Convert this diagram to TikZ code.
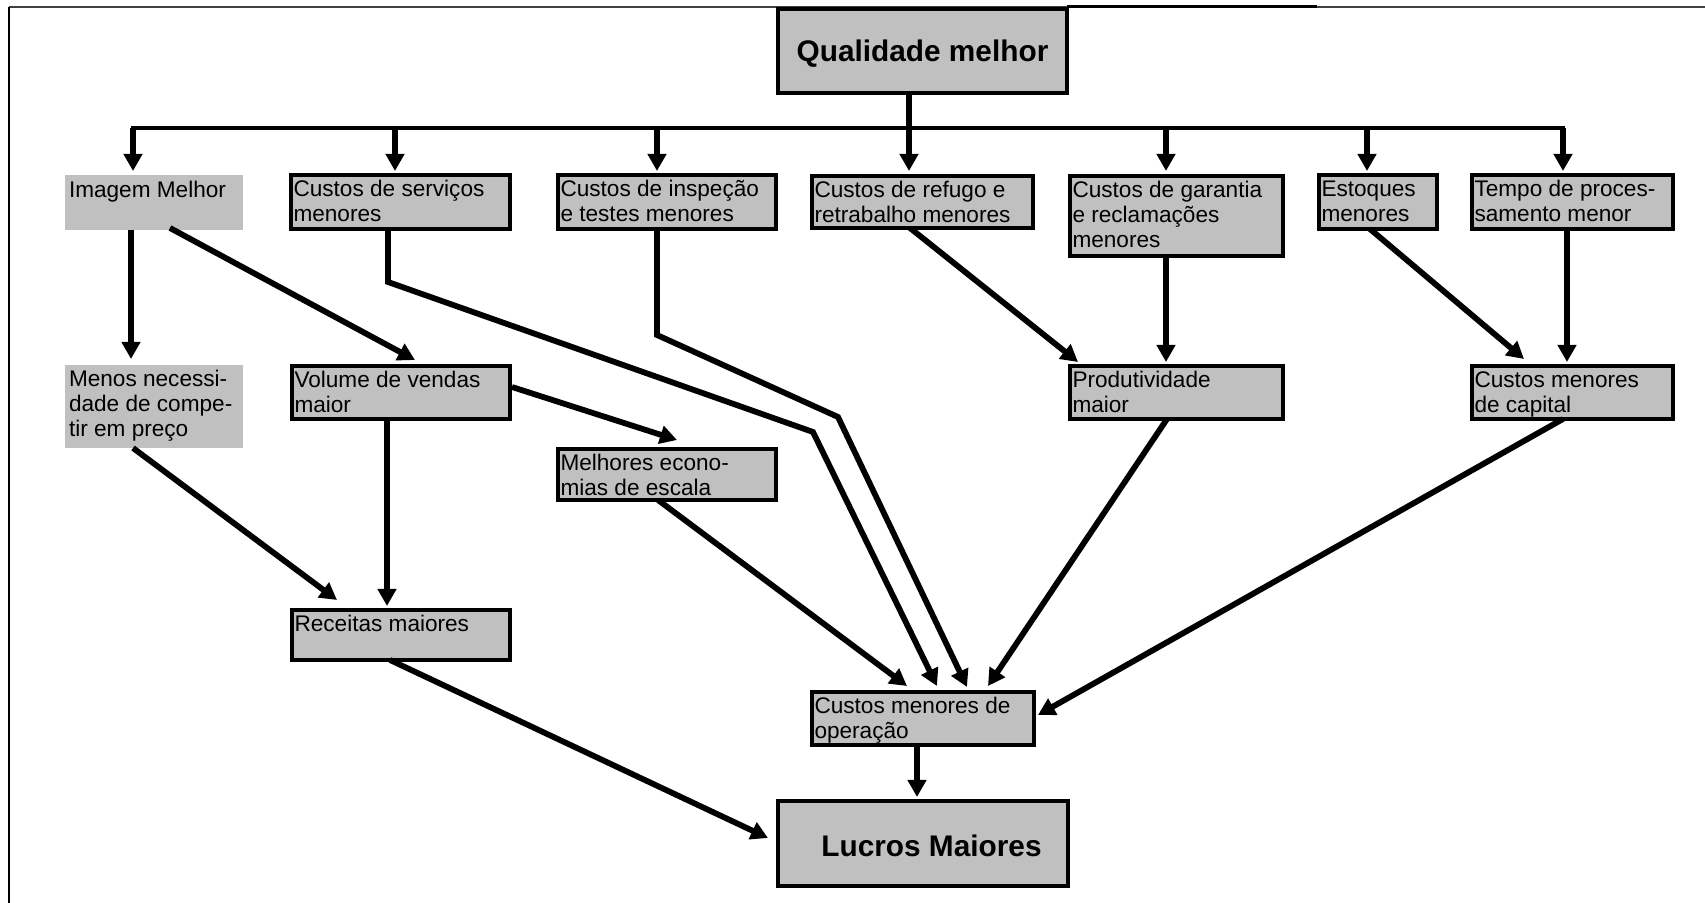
\documentclass[tikz,border=0pt]{standalone}
\usepackage{fontspec}
\setmainfont{Liberation Sans}
\usetikzlibrary{arrows.meta}
\definecolor{boxgray}{HTML}{C0C0C0}
\newcommand{\txtfont}{\fontsize{11.3pt}{12.5pt}\selectfont}
\newcommand{\ttlfont}{\fontsize{14.9pt}{17pt}\selectfont\bfseries}
% #1 style, #2 name, #3 x1, #4 y1, #5 x2, #6 y2 (px), #7 padx, #8 pady (px), #9 text
\newcommand{\bnode}[9]{%
  \pgfmathsetmacro{\bbw}{0.5*(#5-#3-2*#7)}%
  \pgfmathsetmacro{\bbh}{0.5*(#6-#4-2*#8)}%
  \pgfmathsetmacro{\bpx}{0.5*#7}%
  \pgfmathsetmacro{\bpy}{0.5*#8}%
  \node[#1, inner xsep=\bpx pt, inner ysep=\bpy pt] (#2) at ({(#3+#5)/2},{(#4+#6)/2})
    {\parbox[c][\bbh pt][t]{\bbw pt}{\raggedright\strut #9}};%
}
\begin{document}
\begin{tikzpicture}[x=0.5pt,y=-0.5pt,
  gbox/.style={draw=black, fill=boxgray, line width=2.4pt, outer sep=0pt, font=\txtfont},
  nbox/.style={fill=boxgray, outer sep=0pt, font=\txtfont},
  tbox/.style={draw=black, fill=boxgray, line width=2.4pt, outer sep=0pt, inner sep=0pt, font=\ttlfont},
  arr/.style={line width=2.9pt, -{Triangle[width=9pt,length=8.5pt]}},
  busline/.style={line width=2.3pt, line cap=rect},
  framel/.style={line width=1.25pt}
]
\useasboundingbox (0,0) rectangle (1705,903);

% frame
\draw[line width=0.8pt, black!75] (9,7) -- (1705,7);
\draw[line width=1.5pt] (1067,7) -- (1317,7);
\draw[framel] (9,7) -- (9,903);

% title boxes
\node[tbox, minimum width=144.5pt, minimum height=42pt] (qual) at (922.5,51) {\raisebox{-1.5pt}[\height][\depth]{Qualidade melhor}};
\node[tbox, minimum width=145pt, minimum height=42.5pt] (lucros) at (923,843.5) {\hspace*{8.5pt}\raisebox{-1pt}[\height][\depth]{Lucros Maiores}};

% row 1
\bnode{nbox}{imagem}{65}{175}{243}{230}{4}{5.5}{Imagem Melhor}
\bnode{gbox}{servicos}{291}{175}{510}{229}{2.5}{4.5}{Custos de serviços\\menores}
\bnode{gbox}{inspecao}{558}{175}{776}{229}{2.5}{4.5}{Custos de inspeção\\e testes menores}
\bnode{gbox}{refugo}{812}{176}{1033}{228}{2.5}{4.5}{Custos de refugo e\\retrabalho menores}
\bnode{gbox}{garantia}{1070}{176}{1283}{256}{2.5}{4.5}{Custos de garantia\\e reclamações\\menores}
\bnode{gbox}{estoques}{1319}{175}{1437}{229}{2.5}{4.5}{Estoques\\menores}
\bnode{gbox}{tempo}{1472}{175}{1673}{229}{2.5}{4.5}{Tempo de proces-\\samento menor}

% row 2
\bnode{nbox}{menos}{65}{365}{243}{448}{4}{4.5}{Menos necessi-\\dade de compe-\\tir em preço}
\bnode{gbox}{volume}{292}{366}{510}{419}{2.5}{4.5}{Volume de vendas\\maior}
\bnode{gbox}{produt}{1070}{366}{1283}{419}{2.5}{4.5}{Produtividade\\maior}
\bnode{gbox}{capital}{1472}{366}{1673}{419}{2.5}{4.5}{Custos menores\\de capital}
\bnode{gbox}{melhores}{558}{449}{776}{500}{2.5}{4.5}{Melhores econo-\\mias de escala}
\bnode{gbox}{receitas}{292}{610}{510}{660}{2.5}{4.5}{Receitas maiores}
\bnode{gbox}{operacao}{812}{692}{1034}{745}{2.5}{4.5}{Custos menores de\\operação}

% bus
\coordinate (busL) at (133,128);
\coordinate (busR) at (1563,128);
\draw[busline] (busL) -- (busR);
\coordinate (tImg) at ([shift={(-21,-4)}]imagem.north);
\coordinate (tSer) at ([shift={(-5.5,-4)}]servicos.north);
\coordinate (tIns) at ([shift={(-10,-4)}]inspecao.north);
\coordinate (tGar) at ([shift={(-10.5,-5)}]garantia.north);
\coordinate (tEst) at ([shift={(-11,-4)}]estoques.north);
\coordinate (tTem) at ([shift={(-9.5,-4)}]tempo.north);
\draw[arr] (tImg |- busL) -- (tImg);
\draw[arr] (tSer |- busL) -- (tSer);
\draw[arr] (tIns |- busL) -- (tIns);
\draw[arr] (tGar |- busL) -- (tGar);
\draw[arr] (tEst |- busL) -- (tEst);
\draw[arr] (tTem |- busL) -- (tTem);
\draw[arr] ([shift={(-13.5,0)}]qual.south) -- ([shift={(-13.5,-5)}]refugo.north);

% connectors
\draw[arr] ([shift={(-23,0)}]imagem.south) -- ([shift={(-23,-6)}]menos.north);
\draw[arr] ([shift={(16,-2)}]imagem.south) -- ([shift={(14,-6)}]volume.north);
\draw[arr, line join=miter] ([shift={(-12.5,0)}]servicos.south) -- (388,282) -- (813,432) -- ([shift={(14,-6)}]operacao.north);
\draw[arr, line join=miter] ([shift={(-10,0)}]inspecao.south) -- (657,335) -- (838,417) -- ([shift={(44,-5)}]operacao.north);
\draw[arr] ([shift={(-9,0)}]melhores.south) -- ([shift={(-16,-6)}]operacao.north);
\draw[arr] ([shift={(-12.5,0)}]refugo.south) -- ([shift={(-98.5,-4)}]produt.north);
\draw[arr] ([shift={(-10.5,0)}]garantia.south) -- ([shift={(-10.5,-4)}]produt.north);
\draw[arr] ([shift={(-9.5,0)}]produt.south) -- ([shift={(65,-6)}]operacao.north);
\draw[arr] ([shift={(-8,0)}]estoques.south) -- ([shift={(-48.5,-7)}]capital.north);
\draw[arr] ([shift={(-5.5,0)}]tempo.south) -- ([shift={(-5.5,-4)}]capital.north);
\draw[arr] ([shift={(-9.5,0)}]capital.south) -- ([shift={(4,-3.5)}]operacao.east);
\draw[arr] ([shift={(2,-5.5)}]volume.east) -- ([shift={(10,-9)}]melhores.north);
\draw[arr] ([shift={(-14,0)}]volume.south) -- ([shift={(-14,-4)}]receitas.north);
\draw[arr] ([shift={(-21,0)}]menos.south) -- ([shift={(-64,-10)}]receitas.north);
\draw[arr] ([shift={(-11,0)}]receitas.south) -- ([shift={(-10,-5.5)}]lucros.west);
\draw[arr] ([shift={(-6,0)}]operacao.south) -- ([shift={(-6,-4)}]lucros.north);
\end{tikzpicture}
\end{document}
